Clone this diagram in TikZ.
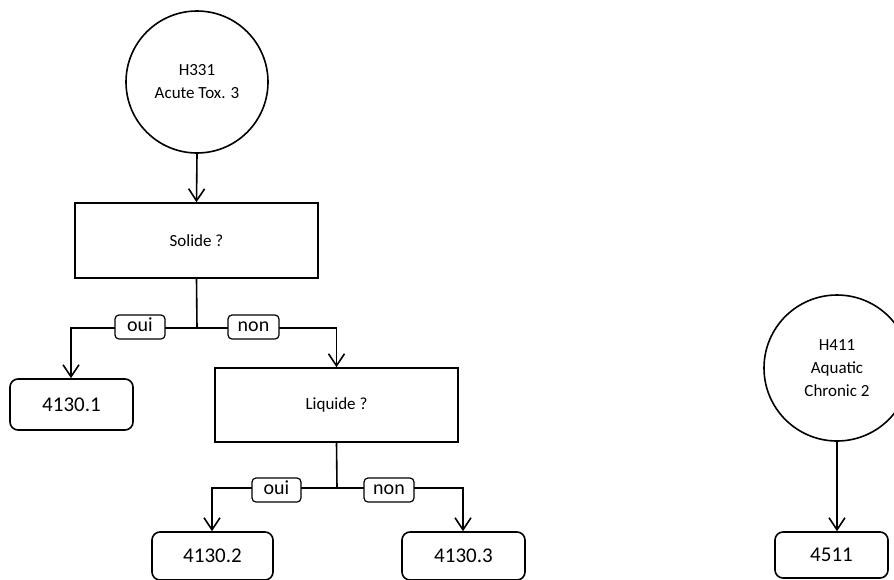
\documentclass[tikz,border=0pt]{standalone}
\usepackage{fontspec}
\setmainfont{Carlito}
\usetikzlibrary{arrows.meta}
\begin{document}
\begin{tikzpicture}[x=1pt,y=-1pt,
  line width=1.6pt,
  hcircle/.style={draw, circle, inner sep=0pt, align=center, font=\fontsize{17}{23}\selectfont},
  qbox/.style={draw, rectangle, inner sep=0pt, font=\fontsize{17}{20}\selectfont},
  numbox/.style={draw, rounded corners=8pt, inner sep=0pt, text height=14pt, text depth=1pt, font=\fontsize{21}{24}\selectfont},
  tag/.style={draw, fill=white, rounded corners=4pt, line width=1.2pt, inner sep=0pt,
    minimum width=50pt, minimum height=24pt, text height=10pt, text depth=2pt, font=\fontsize{20}{22}\selectfont},
  flow/.style={-{Straight Barb[length=12pt,width=16pt,line width=1.6pt]}}
]
\useasboundingbox (0,0) rectangle (894,579);
% nodes
\node[hcircle, minimum size=142pt] (c1) at (197,82) {H331\\Acute Tox. 3};
\node[qbox, minimum width=243pt, minimum height=75pt] (solide) at (196.5,240.5) {Solide ?};
\node[numbox, minimum width=123pt, minimum height=51pt] (n1) at (71.5,404.5) {4130.1};
\node[qbox, minimum width=243pt, minimum height=74pt] (liquide) at (336.5,405) {Liquide ?};
\node[numbox, minimum width=121pt, minimum height=48pt] (n2) at (212.5,556) {4130.2};
\node[numbox, minimum width=123pt, minimum height=48pt] (n3) at (463.5,556) {4130.3};
\node[hcircle, minimum size=146pt] (c2) at (837,368) {H411\\Aquatic\\Chronic 2};
\node[numbox, minimum width=113pt, minimum height=46pt] (n4) at (831.5,555) {4511};
% branch points
\coordinate (b1) at (197,328);
\coordinate (b2) at (337,488);
% connectors
\draw[flow] (c1.south) -- (solide.north);
\draw (solide.south) -- (b1);
\draw[flow] (b1) -- (b1 -| 71,0) -- (71,0 |- n1.north);
\draw[flow] (b1) -- (b1 -| liquide.north) -- (liquide.north);
\draw (liquide.south) -- (b2);
\draw[flow] (b2) -- (b2 -| 212,0) -- (212,0 |- n2.north);
\draw[flow] (b2) -- (b2 -| 463,0) -- (463,0 |- n3.north);
\draw[flow] (c2.south) -- (c2.south |- n4.north);
% labels
\node[tag] (t1) at (140,327) {oui};
\node[tag, minimum width=51pt] (t2) at (253.5,327) {non};
\node[tag, minimum width=49pt] (t3) at (276.5,490) {oui};
\node[tag, minimum width=50pt] (t4) at (389,490) {non};
\end{tikzpicture}
\end{document}
